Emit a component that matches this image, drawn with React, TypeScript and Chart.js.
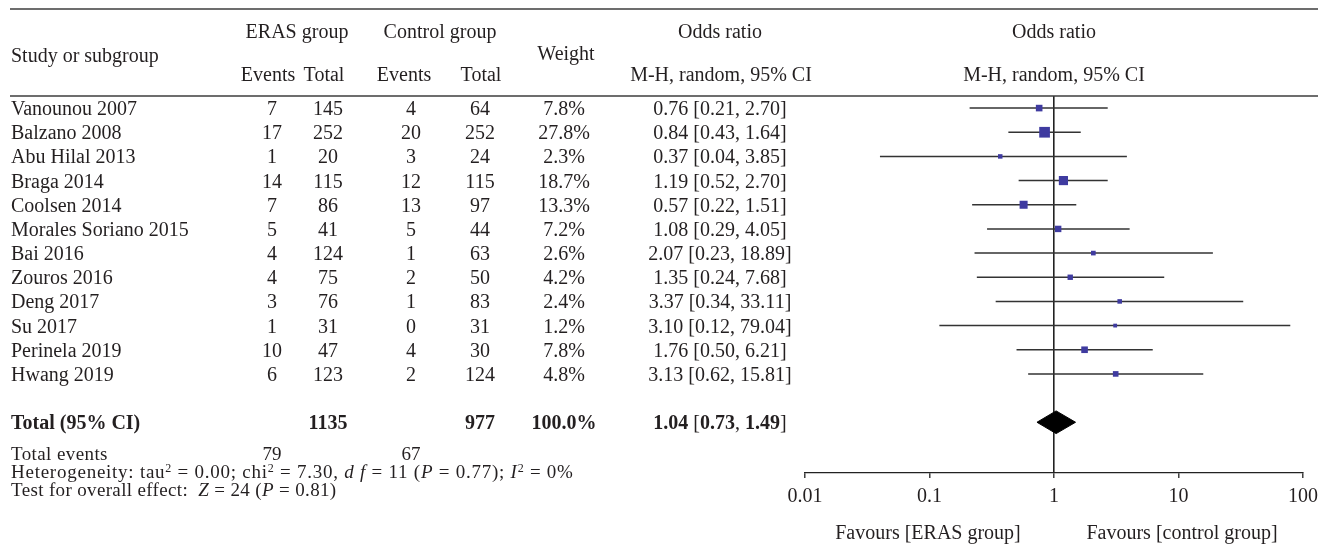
import React, { useEffect, useRef } from 'react';
import { Chart, registerables } from 'chart.js';

Chart.register(...registerables);

// Study-level data
const studies = [
  'Vanounou 2007',
  'Balzano 2008',
  'Abu Hilal 2013',
  'Braga 2014',
  'Coolsen 2014',
  'Morales Soriano 2015',
  'Bai 2016',
  'Zouros 2016',
  'Deng 2017',
  'Su 2017',
  'Perinela 2019',
  'Hwang 2019',
];
const erasEvents = [7, 17, 1, 14, 7, 5, 4, 4, 3, 1, 10, 6];
const erasTotal = [145, 252, 20, 115, 86, 41, 124, 75, 76, 31, 47, 123];
const ctrlEvents = [4, 20, 3, 12, 13, 5, 1, 2, 1, 0, 4, 2];
const ctrlTotal = [64, 252, 24, 115, 97, 44, 63, 50, 83, 31, 30, 124];
const weights = [7.8, 27.8, 2.3, 18.7, 13.3, 7.2, 2.6, 4.2, 2.4, 1.2, 7.8, 4.8];
const oddsRatio = [0.76, 0.84, 0.37, 1.19, 0.57, 1.08, 2.07, 1.35, 3.37, 3.1, 1.76, 3.13];
const ciLow = [0.21, 0.43, 0.04, 0.52, 0.22, 0.29, 0.23, 0.24, 0.34, 0.12, 0.5, 0.62];
const ciHigh = [2.7, 1.64, 3.85, 2.7, 1.51, 4.05, 18.89, 7.68, 33.11, 79.04, 6.21, 15.81];

// Pooled result
const pooledErasTotal = 1135;
const pooledCtrlTotal = 977;
const pooledWeight = 100.0;
const pooledOR = 1.04;
const pooledLow = 0.73;
const pooledHigh = 1.49;
const totalErasEvents = 79;
const totalCtrlEvents = 67;

// Axis
const AXIS_TICKS = [0.01, 0.1, 1, 10, 100];
const AXIS_LABELS = ['0.01', '0.1', '1', '10', '100'];

// Row index used for the pooled estimate (a blank row separates it from the studies)
const TOTAL_ROW = 13;
const DIAMOND_HALF = 0.47;

const FAMILY = '"Liberation Serif", "Times New Roman", serif';
const FS = 20;
const FOOT_FS = 19;
const TEXT = '#231f20';
const SQUARE = '#3f3ba0';

type Run = { t: string; bold?: boolean; italic?: boolean; sup?: boolean };

function fontFor(r: Run, base: number) {
  const size = r.sup ? Math.round(base * 0.62) : base;
  return `${r.italic ? 'italic ' : ''}${r.bold ? 'bold ' : ''}${size}px ${FAMILY}`;
}

function drawRuns(
  ctx: CanvasRenderingContext2D,
  runs: Run[],
  x: number,
  cy: number,
  align: 'left' | 'center' = 'left',
  spacing = 0,
  size = FS
) {
  const c: any = ctx;
  if ('letterSpacing' in c) c.letterSpacing = `${spacing}px`;
  const widths = runs.map((r) => {
    ctx.font = fontFor(r, size);
    return ctx.measureText(r.t).width;
  });
  const total = widths.reduce((a, b) => a + b, 0);
  let cx = align === 'center' ? x - total / 2 : x;
  const base = cy + Math.round(size * 0.35);
  runs.forEach((r, i) => {
    ctx.font = fontFor(r, size);
    ctx.fillText(r.t, cx, r.sup ? base - 6 : base);
    cx += widths[i];
  });
  if ('letterSpacing' in c) c.letterSpacing = '0px';
}

function txt(
  ctx: CanvasRenderingContext2D,
  s: string,
  x: number,
  cy: number,
  align: 'left' | 'center' = 'left',
  bold = false,
  size = FS,
  spacing = 0
) {
  drawRuns(ctx, [{ t: s, bold }], x, cy, align, spacing, size);
}

const fmt2 = (v: number) => v.toFixed(2);

// Column centres of the table
const COL = {
  name: 11,
  erasEv: 272,
  erasTot: 328,
  ctrlEv: 411,
  ctrlTot: 480,
  weight: 564,
  or: 720,
};

const tablePlugin = {
  id: 'forestTable',
  afterDraw(chart: any) {
    const ctx: CanvasRenderingContext2D = chart.ctx;
    const ys = chart.scales.y;
    ctx.save();

    // Table rules
    ctx.strokeStyle = '#3c3c3c';
    ctx.lineWidth = 1.6;
    [9, 96].forEach((y) => {
      ctx.beginPath();
      ctx.moveTo(10, y);
      ctx.lineTo(1318, y);
      ctx.stroke();
    });

    ctx.fillStyle = TEXT;
    ctx.textAlign = 'left';
    ctx.textBaseline = 'alphabetic';

    // Header
    txt(ctx, 'Study or subgroup', COL.name, 55);
    txt(ctx, 'ERAS group', 297, 31, 'center');
    txt(ctx, 'Events', 268, 74, 'center');
    txt(ctx, 'Total', 324, 74, 'center');
    txt(ctx, 'Control group', 440, 31, 'center');
    txt(ctx, 'Events', 404, 74, 'center');
    txt(ctx, 'Total', 481, 74, 'center');
    txt(ctx, 'Weight', 566, 53, 'center');
    txt(ctx, 'Odds ratio', 720, 31, 'center');
    txt(ctx, 'M-H, random, 95% CI', 721, 74, 'center');
    const one = chart.scales.x.getPixelForValue(1);
    txt(ctx, 'Odds ratio', one, 31, 'center');
    txt(ctx, 'M-H, random, 95% CI', one, 74, 'center');

    // Study rows
    studies.forEach((name, i) => {
      const y = ys.getPixelForValue(i);
      txt(ctx, name, COL.name, y);
      txt(ctx, String(erasEvents[i]), COL.erasEv, y, 'center');
      txt(ctx, String(erasTotal[i]), COL.erasTot, y, 'center');
      txt(ctx, String(ctrlEvents[i]), COL.ctrlEv, y, 'center');
      txt(ctx, String(ctrlTotal[i]), COL.ctrlTot, y, 'center');
      txt(ctx, `${weights[i].toFixed(1)}%`, COL.weight, y, 'center');
      txt(ctx, `${fmt2(oddsRatio[i])} [${fmt2(ciLow[i])}, ${fmt2(ciHigh[i])}]`, COL.or, y, 'center');
    });

    // Pooled row
    const ty = ys.getPixelForValue(TOTAL_ROW);
    txt(ctx, 'Total (95% CI)', COL.name, ty, 'left', true);
    txt(ctx, String(pooledErasTotal), COL.erasTot, ty, 'center', true);
    txt(ctx, String(pooledCtrlTotal), COL.ctrlTot, ty, 'center', true);
    txt(ctx, `${pooledWeight.toFixed(1)}%`, COL.weight, ty, 'center', true);
    drawRuns(
      ctx,
      [
        { t: fmt2(pooledOR), bold: true },
        { t: ' [' },
        { t: fmt2(pooledLow), bold: true },
        { t: ', ' },
        { t: fmt2(pooledHigh), bold: true },
        { t: ']' },
      ],
      COL.or,
      ty,
      'center'
    );

    // Footer
    const fy = ty + 31;
    txt(ctx, 'Total events', COL.name, fy, 'left', false, FOOT_FS, 0.4);
    txt(ctx, String(totalErasEvents), COL.erasEv, fy, 'center', false, FOOT_FS);
    txt(ctx, String(totalCtrlEvents), COL.ctrlEv, fy, 'center', false, FOOT_FS);
    drawRuns(
      ctx,
      [
        { t: 'Heterogeneity: tau' },
        { t: '2', sup: true },
        { t: ' = 0.00; chi' },
        { t: '2', sup: true },
        { t: ' = 7.30, ' },
        { t: 'd f', italic: true },
        { t: ' = 11 (' },
        { t: 'P', italic: true },
        { t: ' = 0.77); ' },
        { t: 'I', italic: true },
        { t: '2', sup: true },
        { t: ' = 0%' },
      ],
      COL.name,
      fy + 18,
      'left',
      0.75,
      FOOT_FS
    );
    drawRuns(
      ctx,
      [
        { t: 'Test for overall effect:  ' },
        { t: 'Z', italic: true },
        { t: ' = 24 (' },
        { t: 'P', italic: true },
        { t: ' = 0.81)' },
      ],
      COL.name,
      fy + 36,
      'left',
      0.35,
      FOOT_FS
    );

    // Direction labels under the axis
    txt(ctx, 'Favours [ERAS group]', 928, 532, 'center');
    txt(ctx, 'Favours [control group]', 1182, 532, 'center');

    ctx.restore();
  },
};

const squareSide = (w: number) => 2 + 1.65 * Math.sqrt(w);

export default function App() {
  const ref = useRef<HTMLCanvasElement | null>(null);

  useEffect(() => {
    if (!ref.current) return;

    const ciSets = studies.map((_, i) => ({
      label: `ci-${i}`,
      data: [
        { x: ciLow[i], y: i },
        { x: ciHigh[i], y: i },
      ],
      showLine: true,
      borderColor: '#333333',
      borderWidth: 1.5,
      pointRadius: 0,
      fill: false,
      order: 2,
    }));

    const chart = new Chart(ref.current, {
      type: 'scatter',
      data: {
        datasets: [
          {
            label: 'estimates',
            data: oddsRatio.map((v, i) => ({ x: v, y: i })),
            pointStyle: 'rect',
            pointRadius: weights.map((w) => squareSide(w) / Math.SQRT2),
            backgroundColor: SQUARE,
            borderWidth: 0,
            showLine: false,
            order: 0,
          } as any,
          {
            type: 'line',
            label: 'pooled',
            data: [
              { x: pooledLow, y: TOTAL_ROW },
              { x: pooledOR, y: TOTAL_ROW - DIAMOND_HALF },
              { x: pooledHigh, y: TOTAL_ROW },
              { x: pooledOR, y: TOTAL_ROW + DIAMOND_HALF },
              { x: pooledLow, y: TOTAL_ROW },
            ],
            borderColor: '#000000',
            backgroundColor: '#000000',
            borderWidth: 1,
            pointRadius: 0,
            fill: 'shape',
            tension: 0,
            order: 0,
          } as any,
          ...ciSets,
        ],
      },
      options: {
        animation: false,
        responsive: false,
        events: [],
        layout: { padding: { left: 805, right: 18, top: 96, bottom: 37 } },
        plugins: {
          legend: { display: false },
          tooltip: { enabled: false },
        },
        scales: {
          x: {
            type: 'logarithmic',
            min: 0.01,
            max: 100,
            position: 'bottom',
            afterBuildTicks: (s: any) => {
              s.ticks = AXIS_TICKS.map((v) => ({ value: v }));
            },
            afterFit: (s: any) => {
              s.height = 38;
            },
            ticks: {
              autoSkip: false,
              maxRotation: 0,
              padding: 7,
              color: TEXT,
              font: { family: FAMILY, size: FS },
              callback: (_v: any, idx: number) => AXIS_LABELS[idx],
            },
            grid: {
              drawOnChartArea: true,
              color: (c: any) => (c.tick && c.tick.value === 1 ? '#222222' : 'rgba(0,0,0,0)'),
              lineWidth: 1.6,
              tickLength: 5,
              tickColor: '#222222',
              tickWidth: 1.3,
            },
            border: { display: true, color: '#222222', width: 1.3 },
          },
          y: {
            type: 'linear',
            reverse: true,
            min: -0.5,
            max: 15.1,
            display: false,
          },
        },
      } as any,
      plugins: [tablePlugin],
    });

    return () => chart.destroy();
  }, []);

  return (
    <div style={{ position: 'absolute', left: 0, top: 0, width: 1325, height: 548, background: '#ffffff' }}>
      <canvas ref={ref} width={1325} height={548} style={{ display: 'block' }} />
    </div>
  );
}
